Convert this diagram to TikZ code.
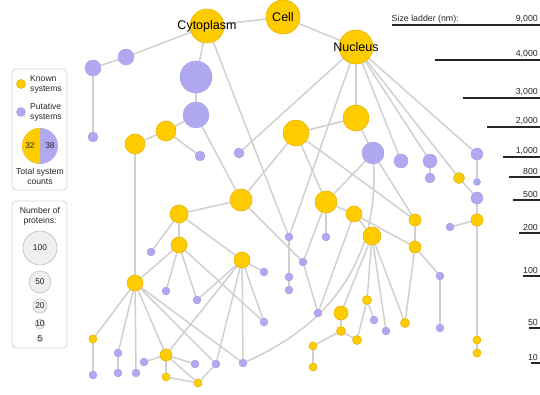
\documentclass[tikz,border=0pt]{standalone}
\usepackage{fontspec}
\setmainfont{Liberation Sans}
\usepackage{tikz}
\usetikzlibrary{backgrounds}

\definecolor{kyellow}{HTML}{FFCC00}
\definecolor{kline}{HTML}{E8B400}
\definecolor{pviolet}{HTML}{B0A9F0}
\definecolor{pline}{HTML}{A49DE8}
\definecolor{linkgray}{HTML}{D0D0D0}
\definecolor{boxgray}{HTML}{D8D8D8}
\definecolor{sizefill}{HTML}{EFEFF2}
\definecolor{sizeline}{HTML}{C4C4C8}

\begin{document}
\begin{tikzpicture}[x=1pt,y=-1pt,
    known/.style={circle,fill=kyellow,draw=kline,line width=0.6pt,inner sep=0pt,minimum size=2*#1},
    putative/.style={circle,fill=pviolet,draw=pline,line width=0.4pt,inner sep=0pt,minimum size=2*#1},
    sizekey/.style={circle,fill=sizefill,draw=sizeline,line width=0.7pt,inner sep=0pt,minimum size=2*#1},
    compname/.style={font=\fontsize{12.5}{15}\selectfont},
    legtext/.style={font=\fontsize{8.6}{10}\selectfont,text=black!85,inner sep=0pt},
    legnum/.style={font=\fontsize{8.4}{10}\selectfont,text=black!85,inner sep=0pt},
    ladtext/.style={font=\fontsize{8.8}{10}\selectfont,text=black!85,inner sep=1.5pt},
    legbox/.style={draw=boxgray,line width=0.9pt,rounded corners=4pt},
    rung/.style={draw=black!85,line width=1.3pt},
    link/.style={draw=linkgray,line width=1.5pt},
    every edge/.style={link}]

  \useasboundingbox (0,0) rectangle (540,395);

  % compartments
  \node[known=17,label={[compname]center:Cell}]      (cell) at (283,17) {};
  \node[known=17,label={[compname]center:Cytoplasm}] (cyto) at (207,26) {};
  \node[known=17,label={[compname]center:Nucleus}]   (nuc)  at (356,47) {};

  % known systems
  \node[known=10]  (K1)  at (166,131) {};
  \node[known=10]  (K2)  at (135,144) {};
  \node[known=11]  (K3)  at (241,200) {};
  \node[known=13]  (K4)  at (356,118) {};
  \node[known=13]  (K5)  at (296,133) {};
  \node[known=5.5] (K6)  at (459,178) {};
  \node[known=6]   (K7)  at (477,220) {};
  \node[known=4]   (K8)  at (477,340) {};
  \node[known=4]   (K9)  at (477,353) {};
  \node[known=11]  (K10) at (326,202) {};
  \node[known=8]   (K11) at (354,214) {};
  \node[known=9]   (K12) at (372,236) {};
  \node[known=6]   (K13) at (415,220) {};
  \node[known=6]   (K14) at (415,247) {};
  \node[known=7]   (K15) at (341,313) {};
  \node[known=4.5] (K16) at (341,331) {};
  \node[known=4.5] (K17) at (357,340) {};
  \node[known=4]   (K18) at (313,346) {};
  \node[known=4]   (K19) at (313,367) {};
  \node[known=4.5] (K20) at (367,300) {};
  \node[known=4.5] (K21) at (405,323) {};
  \node[known=9]   (K22) at (179,214) {};
  \node[known=8]   (K23) at (179,245) {};
  \node[known=8]   (K24) at (135,283) {};
  \node[known=8]   (K25) at (242,260) {};
  \node[known=4]   (K26) at (93,339)  {};
  \node[known=6]   (K27) at (166,355) {};
  \node[known=4]   (K28) at (166,377) {};
  \node[known=4]   (K29) at (198,383) {};

  % putative systems
  \node[putative=8]   (P1)  at (126,57)  {};
  \node[putative=8]   (P2)  at (93,68)   {};
  \node[putative=5]   (P3)  at (93,137)  {};
  \node[putative=16]  (P4)  at (196,77)  {};
  \node[putative=13]  (P5)  at (196,115) {};
  \node[putative=5]   (P6)  at (200,156) {};
  \node[putative=5]   (P7)  at (239,153) {};
  \node[putative=4]   (P8)  at (289,237) {};
  \node[putative=4]   (P9)  at (289,277) {};
  \node[putative=4]   (P10) at (289,290) {};
  \node[putative=11]  (P11) at (373,153) {};
  \node[putative=7]   (P12) at (401,161) {};
  \node[putative=7]   (P13) at (430,161) {};
  \node[putative=5]   (P14) at (430,178) {};
  \node[putative=6]   (P15) at (477,154) {};
  \node[putative=3.5] (P16) at (477,182) {};
  \node[putative=6]   (P17) at (477,198) {};
  \node[putative=4]   (P18) at (450,227) {};
  \node[putative=4]   (P19) at (440,276) {};
  \node[putative=4]   (P20) at (440,328) {};
  \node[putative=4]   (P21) at (326,237) {};
  \node[putative=4]   (P22) at (303,262) {};
  \node[putative=4]   (P23) at (318,313) {};
  \node[putative=4]   (P24) at (374,320) {};
  \node[putative=4]   (P25) at (386,331) {};
  \node[putative=4]   (P26) at (151,252) {};
  \node[putative=4]   (P27) at (166,291) {};
  \node[putative=4]   (P28) at (197,300) {};
  \node[putative=4]   (P29) at (93,375)  {};
  \node[putative=4]   (P30) at (118,353) {};
  \node[putative=4]   (P31) at (118,373) {};
  \node[putative=4]   (P32) at (136,373) {};
  \node[putative=4]   (P33) at (144,362) {};
  \node[putative=4]   (P34) at (195,364) {};
  \node[putative=4]   (P35) at (216,364) {};
  \node[putative=4]   (P36) at (243,363) {};
  \node[putative=4]   (P37) at (264,272) {};
  \node[putative=4]   (P38) at (264,322) {};

  \begin{pgfonlayer}{background}
  \path (cell) edge (cyto)
               edge (nuc);
  \path (cyto) edge (P1)
               edge (P4)
               edge (P8);
  \path (P1) edge (P2);
  \path (P2) edge (P3);
  \path (P4) edge (P5);
  \path (P5) edge (K1)
             edge (K3);
  \path (K1) edge (K2)
             edge (P6);
  \path (K2) edge (K24);
  \path (nuc) edge (P7)
              edge (P8)
              edge (K4)
              edge (P12)
              edge (P13)
              edge (K6)
              edge (P15);
  \path (P13) edge (P14);
  \path (P15) edge (P16);
  \path (K6) edge (P17);
  \path (P17) edge (K7);
  \path (K7) edge (P18)
             edge (K8);
  \path (K8) edge (K9);
  \path (K4) edge (K5)
             edge (P11);
  \path (K5) edge (K3)
             edge (K10)
             edge (K13);
  \path (P11) edge (K10)
              edge (K13);
  \path (P8) edge (P9);
  \path (P9) edge (P10);
  \path (K10) edge (K11)
              edge (P21)
              edge (P22);
  \path (K3) edge (P22)
             edge (K22);
  \path (P22) edge (P23);
  \path (K11) edge (P23)
              edge (K12)
              edge (K14);
  \path (K13) edge (K14);
  \path (K14) edge (K21)
              edge (P19);
  \path (P19) edge (P20);
  \path (K12) edge (K15)
              edge (K20)
              edge (P25)
              edge (K21);
  \path (K20) edge (P24)
              edge (K17);
  \path (K15) edge (K16);
  \path (K16) edge (K17)
              edge (K18);
  \path (K18) edge (K19);
  \path (K22) edge (K23)
              edge (P26)
              edge (K25);
  \path (K23) edge (K24)
              edge (P27)
              edge (P28)
              edge (P38);
  \path (K25) edge (P37)
              edge (P28)
              edge (K27)
              edge (P35)
              edge (P36)
              edge (P38);
  \path (K24) edge (K26)
              edge (P30)
              edge (P32)
              edge (K27)
              edge (P35)
              edge (P36);
  \path (K26) edge (P29);
  \path (P30) edge (P31);
  \path (K27) edge (P33)
              edge (P34)
              edge (K28)
              edge (K29);
  \path (K28) edge (K29);
  \path (K29) edge (P35);
  \draw[link] (P11) .. controls (378,250) and (340,320) .. (P36);
  \end{pgfonlayer}

  % legend: system types
  \draw[legbox] (12,69) rectangle (67,190);
  \node[known=4.5]    (keyknown) at (21,84)  {};
  \node[legtext,anchor=west,align=left] (keyknowntext) at (30,84) {Known\\systems};
  \node[putative=4.5] (keyput)   at (21,112) {};
  \node[legtext,anchor=west,align=left] (keyputtext) at (30,112) {Putative\\systems};
  \node[circle,fill=pviolet,inner sep=0pt,minimum size=36] (pie) at (40,146) {};
  \fill[kyellow] (pie.north) arc[start angle=270,end angle=90,radius=18] -- cycle;
  \node[legnum] (piek) at (30,146) {32};
  \node[legnum] (piep) at (50,146) {38};
  \node[legtext,align=center] (pietext) at (40,176) {Total system\\counts};

  % legend: protein counts
  \draw[legbox] (12,201) rectangle (67,348);
  \node[legtext,align=center] (numtext) at (40,216) {Number of\\proteins:};
  \node[sizekey=17,label={[legnum]center:100}] (s100) at (40,248) {};
  \node[sizekey=11,label={[legnum]center:50}]  (s50)  at (40,282) {};
  \node[sizekey=7,label={[legnum]center:20}]   (s20)  at (40,306) {};
  \node[sizekey=5,label={[legnum]center:10}]   (s10)  at (40,324) {};
  \node[sizekey=3,label={[legnum]center:5}]    (s5)   at (40,339) {};

  % size ladder
  \node[ladtext,anchor=south west] (ladtitle) at (390,25) {Size ladder (nm):};
  \foreach \xs/\ys/\lab [count=\i] in {392/25/{9,000},435/60/{4,000},463/98/{3,000},
      487/127/{2,000},503/157/{1,000},509/177/800,513/200/500,519/233/200,
      523/276/100,529/328/50,531/363/10}
    \draw[rung] (\xs,\ys) -- (540,\ys) node[ladtext,anchor=south east] (rung\i) {\lab};

\end{tikzpicture}
\end{document}
